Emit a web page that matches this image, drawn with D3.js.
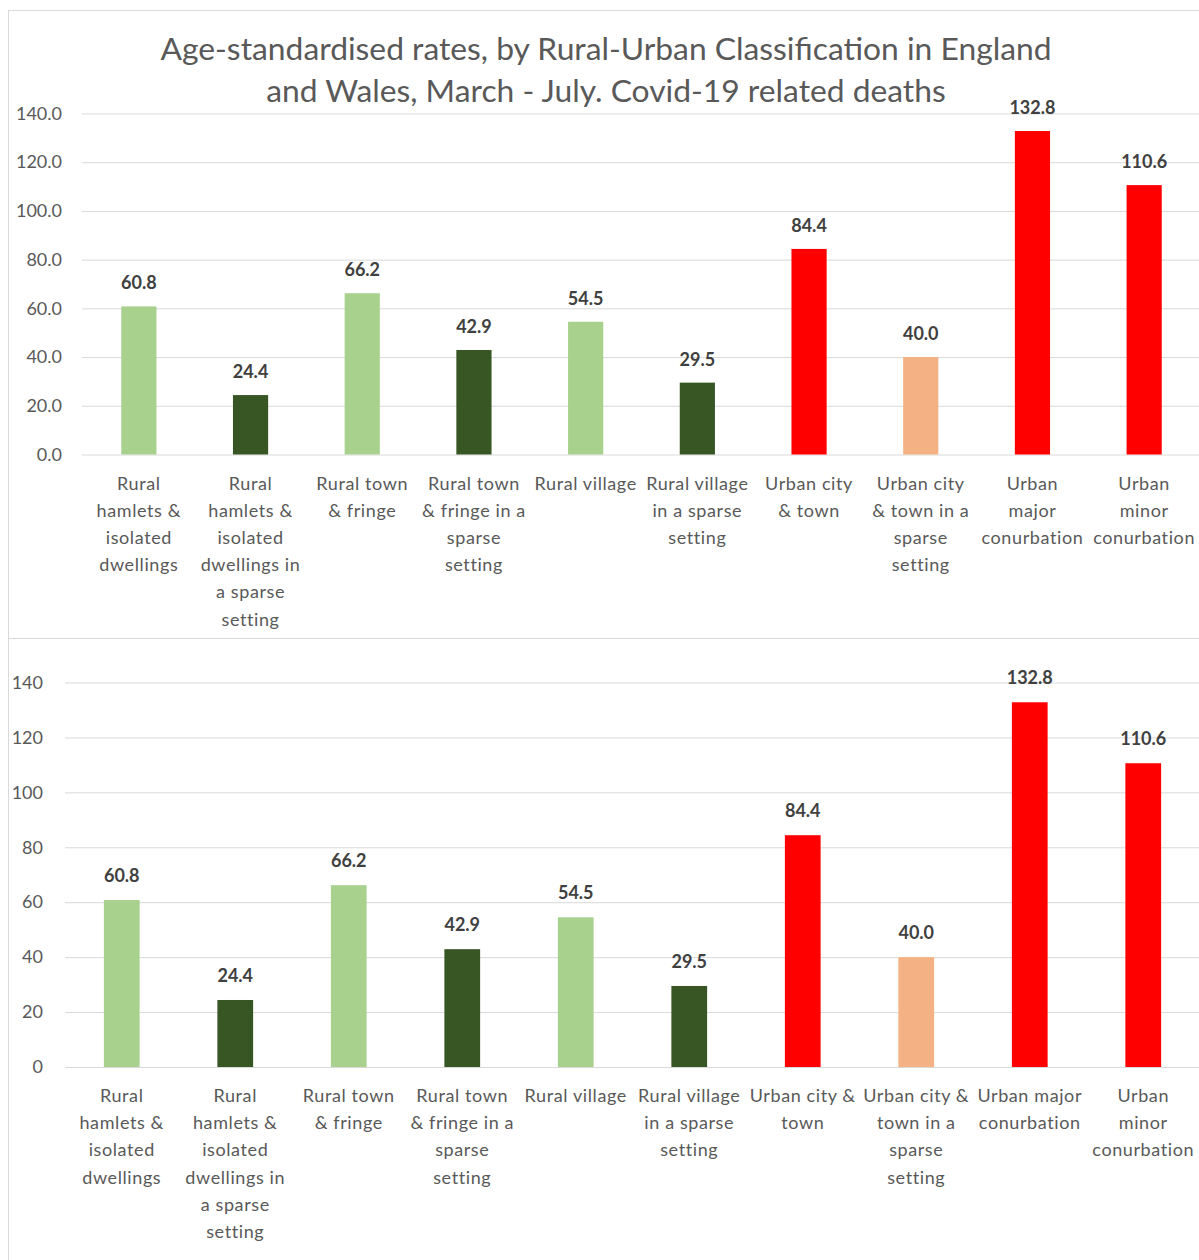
<!DOCTYPE html>
<html><head><meta charset="utf-8">
<script src="https://cdn.jsdelivr.net/npm/d3@7"></script>
<style>body{margin:0;background:#fff}svg{display:block}text{font-family:Lato,"Open Sans",sans-serif}</style>
</head><body>
<svg id="c" width="1199" height="1260"></svg>
<script>
const categories = ["Rural hamlets & isolated dwellings","Rural hamlets & isolated dwellings in a sparse setting","Rural town & fringe","Rural town & fringe in a sparse setting","Rural village","Rural village in a sparse setting","Urban city & town","Urban city & town in a sparse setting","Urban major conurbation","Urban minor conurbation"];
const rates = [60.8,24.4,66.2,42.9,54.5,29.5,84.4,40.0,132.8,110.6];
const barColors = ["#A9D18E","#375623","#A9D18E","#375623","#A9D18E","#375623","#FF0000","#F4B183","#FF0000","#FF0000"];
const topTicks = [0,20,40,60,80,100,120,140];
const bottomTicks = [0,20,40,60,80,100,120,140];
const topLabelLines = [["Rural","hamlets &","isolated","dwellings"],["Rural","hamlets &","isolated","dwellings in","a sparse","setting"],["Rural town","& fringe"],["Rural town","& fringe in a","sparse","setting"],["Rural village"],["Rural village","in a sparse","setting"],["Urban city","& town"],["Urban city","& town in a","sparse","setting"],["Urban","major","conurbation"],["Urban","minor","conurbation"]];
const bottomLabelLines = [["Rural","hamlets &","isolated","dwellings"],["Rural","hamlets &","isolated","dwellings in","a sparse","setting"],["Rural town","& fringe"],["Rural town","& fringe in a","sparse","setting"],["Rural village"],["Rural village","in a sparse","setting"],["Urban city &","town"],["Urban city &","town in a","sparse","setting"],["Urban major","conurbation"],["Urban","minor","conurbation"]];
const titleLines = ["Age-standardised rates, by Rural-Urban Classification in England","and Wales, March - July. Covid-19 related deaths"];

const svg = d3.select("#c");
// chart frames
svg.append("rect").attr("x",8.5).attr("y",10.5).attr("width",1200).attr("height",628).attr("fill","none").attr("stroke","#D9D9D9");
svg.append("rect").attr("x",8.5).attr("y",638.5).attr("width",1200).attr("height",640).attr("fill","none").attr("stroke","#D9D9D9");

svg.append("g").selectAll("text").data(titleLines).join("text")
  .attr("x",606).attr("y",(d,i)=>60+i*42).attr("text-anchor","middle")
  .attr("font-size",31.8).attr("fill","#595959").text(d=>d);

function drawChart(cfg){
  const x = d3.scaleBand().domain(categories).range([cfg.x0,cfg.x1]).paddingInner(0.685).paddingOuter(0.3425);
  const y = d3.scaleLinear().domain([0,140]).range([cfg.y0,cfg.y1]);
  const g = svg.append("g");
  const ax = g.append("g").attr("transform",`translate(${cfg.gx0},0)`)
    .call(d3.axisLeft(y).tickValues(cfg.ticks).tickSize(-(1199-cfg.gx0)).tickPadding(cfg.pad).tickFormat(cfg.fmt));
  ax.select(".domain").remove();
  ax.selectAll("line").attr("stroke","#D9D9D9");
  ax.selectAll("text").attr("font-size",18).attr("fill","#595959").attr("font-family","Lato,sans-serif");
  g.selectAll("rect.bar").data(rates).join("rect").attr("class","bar")
    .attr("x",(d,i)=>x(categories[i])).attr("width",x.bandwidth())
    .attr("y",d=>y(d)).attr("height",d=>y(0)-y(d)).attr("fill",(d,i)=>barColors[i]);
  g.selectAll("text.val").data(rates).join("text").attr("class","val")
    .attr("x",(d,i)=>x(categories[i])+x.bandwidth()/2).attr("y",d=>y(d)-cfg.lab)
    .attr("text-anchor","middle").attr("font-size",18).attr("font-weight","bold").attr("fill","#404040")
    .text(d=>d3.format(".1f")(d));
  categories.forEach((c,i)=>{
    const t = g.append("text").attr("text-anchor","middle").attr("font-size",18).attr("letter-spacing",0.6).attr("fill","#595959");
    cfg.lines[i].forEach((ln,j)=>{
      t.append("tspan").attr("x",x(c)+x.bandwidth()/2).attr("y",cfg.y0+35+j*27.2).text(ln);
    });
  });
}
drawChart({x0:83,x1:1200,y0:454.5,y1:113.5,gx0:82,ticks:topTicks,fmt:d3.format(".1f"),pad:20,lab:17,lines:topLabelLines});
drawChart({x0:65,x1:1200,y0:1067,y1:682.5,gx0:65,ticks:bottomTicks,fmt:d3.format("d"),pad:22,lab:18,lines:bottomLabelLines});
</script>
</body></html>
